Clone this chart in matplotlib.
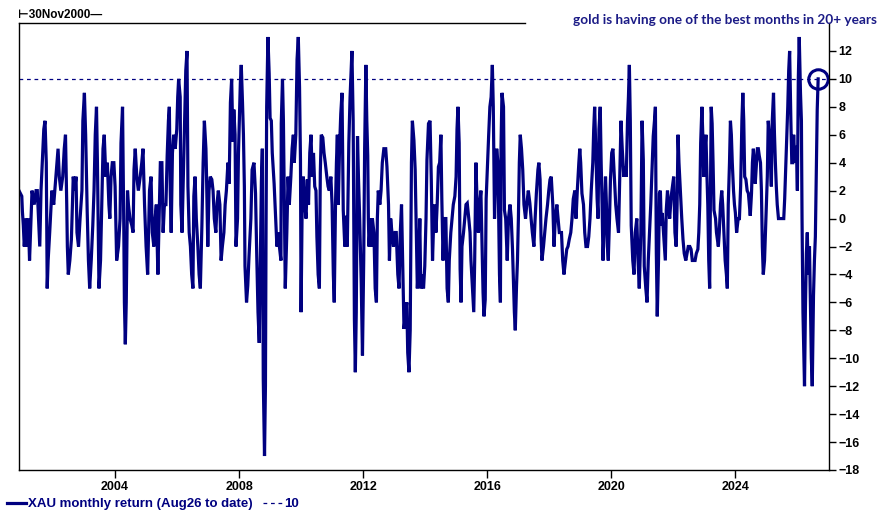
import matplotlib
matplotlib.use("Agg")
import matplotlib.pyplot as plt

# XAU monthly return (%), dates as decimal years
dates = [
    2000.90, 2000.99, 2001.01, 2001.04, 2001.07, 2001.13, 2001.17, 2001.20, 2001.24, 2001.28,
    2001.32, 2001.39, 2001.45, 2001.49, 2001.53, 2001.57, 2001.61, 2001.65, 2001.70, 2001.74,
    2001.78, 2001.81, 2001.84, 2001.89, 2001.96, 2002.02, 2002.09, 2002.16, 2002.20, 2002.25,
    2002.31, 2002.36, 2002.40, 2002.44, 2002.46, 2002.49, 2002.54, 2002.59, 2002.65, 2002.69,
    2002.74, 2002.77, 2002.82, 2002.87, 2002.93, 2002.96, 2003.01, 2003.05, 2003.10, 2003.14,
    2003.18, 2003.23, 2003.28, 2003.32, 2003.36, 2003.40, 2003.43, 2003.48, 2003.53, 2003.57,
    2003.61, 2003.65, 2003.70, 2003.75, 2003.80, 2003.83, 2003.87, 2003.91, 2003.96, 2004.00,
    2004.05, 2004.11, 2004.16, 2004.19, 2004.24, 2004.28, 2004.30, 2004.33, 2004.36, 2004.40,
    2004.43, 2004.48, 2004.54, 2004.58, 2004.61, 2004.65, 2004.70, 2004.75, 2004.81, 2004.86,
    2004.90, 2004.95, 2005.00, 2005.05, 2005.11, 2005.16, 2005.20, 2005.25, 2005.29, 2005.33,
    2005.38, 2005.42, 2005.46, 2005.51, 2005.55, 2005.59, 2005.64, 2005.68, 2005.72, 2005.75,
    2005.78, 2005.81, 2005.85, 2005.89, 2005.94, 2005.99, 2006.02, 2006.05, 2006.10, 2006.12,
    2006.16, 2006.20, 2006.25, 2006.28, 2006.32, 2006.35, 2006.39, 2006.43, 2006.47, 2006.51,
    2006.54, 2006.58, 2006.62, 2006.67, 2006.71, 2006.75, 2006.80, 2006.84, 2006.88, 2006.93,
    2006.95, 2006.99, 2007.03, 2007.07, 2007.12, 2007.16, 2007.20, 2007.25, 2007.29, 2007.33,
    2007.38, 2007.42, 2007.46, 2007.51, 2007.55, 2007.59, 2007.64, 2007.68, 2007.72, 2007.76,
    2007.80, 2007.83, 2007.87, 2007.90, 2007.95, 2007.98, 2008.01, 2008.04, 2008.07, 2008.11,
    2008.14, 2008.17, 2008.19, 2008.24, 2008.28, 2008.32, 2008.38, 2008.42, 2008.48, 2008.53,
    2008.57, 2008.61, 2008.65, 2008.69, 2008.72, 2008.75, 2008.78, 2008.82, 2008.85, 2008.87,
    2008.89, 2008.93, 2008.97, 2009.00, 2009.04, 2009.07, 2009.13, 2009.18, 2009.22, 2009.26,
    2009.30, 2009.35, 2009.36, 2009.40, 2009.43, 2009.46, 2009.49, 2009.54, 2009.58, 2009.62,
    2009.67, 2009.71, 2009.75, 2009.78, 2009.83, 2009.87, 2009.91, 2009.95, 2009.98, 2010.00,
    2010.03, 2010.07, 2010.12, 2010.16, 2010.20, 2010.24, 2010.28, 2010.32, 2010.36, 2010.40,
    2010.44, 2010.48, 2010.51, 2010.55, 2010.59, 2010.62, 2010.65, 2010.70, 2010.74, 2010.78,
    2010.83, 2010.87, 2010.91, 2010.96, 2011.00, 2011.04, 2011.07, 2011.11, 2011.14, 2011.17,
    2011.20, 2011.24, 2011.28, 2011.32, 2011.36, 2011.41, 2011.45, 2011.49, 2011.54, 2011.58,
    2011.64, 2011.68, 2011.72, 2011.75, 2011.78, 2011.82, 2011.85, 2011.89, 2011.94, 2011.98,
    2012.02, 2012.05, 2012.09, 2012.12, 2012.15, 2012.17, 2012.19, 2012.24, 2012.27, 2012.30,
    2012.35, 2012.39, 2012.43, 2012.46, 2012.49, 2012.54, 2012.58, 2012.62, 2012.67, 2012.73,
    2012.77, 2012.82, 2012.85, 2012.89, 2012.93, 2012.98, 2013.03, 2013.07, 2013.12, 2013.16,
    2013.20, 2013.24, 2013.28, 2013.32, 2013.36, 2013.41, 2013.44, 2013.48, 2013.52, 2013.54,
    2013.56, 2013.59, 2013.64, 2013.68, 2013.71, 2013.75, 2013.80, 2013.83, 2013.86, 2013.90,
    2013.95, 2013.99, 2014.03, 2014.06, 2014.11, 2014.16, 2014.20, 2014.24, 2014.28, 2014.31,
    2014.35, 2014.39, 2014.43, 2014.47, 2014.51, 2014.54, 2014.58, 2014.62, 2014.67, 2014.71,
    2014.75, 2014.78, 2014.83, 2014.87, 2014.91, 2014.96, 2015.00, 2015.03, 2015.06, 2015.10,
    2015.13, 2015.16, 2015.19, 2015.24, 2015.28, 2015.32, 2015.36, 2015.41, 2015.45, 2015.48,
    2015.53, 2015.57, 2015.60, 2015.64, 2015.68, 2015.72, 2015.76, 2015.80, 2015.84, 2015.87,
    2015.90, 2015.94, 2015.97, 2016.01, 2016.05, 2016.09, 2016.13, 2016.17, 2016.20, 2016.24,
    2016.28, 2016.31, 2016.35, 2016.40, 2016.43, 2016.45, 2016.48, 2016.53, 2016.56, 2016.60,
    2016.65, 2016.69, 2016.74, 2016.78, 2016.82, 2016.85, 2016.88, 2016.91, 2016.95, 2016.98,
    2017.01, 2017.04, 2017.07, 2017.11, 2017.15, 2017.19, 2017.24, 2017.28, 2017.33, 2017.38,
    2017.42, 2017.46, 2017.51, 2017.55, 2017.59, 2017.64, 2017.67, 2017.71, 2017.74, 2017.77,
    2017.82, 2017.86, 2017.90, 2017.95, 2017.99, 2018.03, 2018.07, 2018.12, 2018.16, 2018.20,
    2018.25, 2018.29, 2018.33, 2018.40, 2018.44, 2018.48, 2018.53, 2018.57, 2018.61, 2018.65,
    2018.70, 2018.74, 2018.78, 2018.83, 2018.87, 2018.91, 2018.96, 2018.99, 2019.02, 2019.06,
    2019.11, 2019.15, 2019.19, 2019.24, 2019.28, 2019.32, 2019.36, 2019.41, 2019.44, 2019.47,
    2019.52, 2019.55, 2019.58, 2019.61, 2019.65, 2019.68, 2019.71, 2019.74, 2019.77, 2019.82,
    2019.85, 2019.88, 2019.91, 2019.95, 2019.98, 2020.02, 2020.06, 2020.11, 2020.15, 2020.19,
    2020.24, 2020.28, 2020.32, 2020.36, 2020.41, 2020.45, 2020.49, 2020.53, 2020.56, 2020.59,
    2020.62, 2020.65, 2020.70, 2020.74, 2020.78, 2020.83, 2020.87, 2020.91, 2020.96, 2021.00,
    2021.04, 2021.07, 2021.12, 2021.16, 2021.20, 2021.24, 2021.28, 2021.32, 2021.36, 2021.40,
    2021.43, 2021.46, 2021.49, 2021.53, 2021.56, 2021.59, 2021.62, 2021.65, 2021.69, 2021.72,
    2021.75, 2021.78, 2021.82, 2021.85, 2021.89, 2021.94, 2021.98, 2022.02, 2022.06, 2022.10,
    2022.13, 2022.16, 2022.19, 2022.24, 2022.28, 2022.32, 2022.36, 2022.41, 2022.45, 2022.49,
    2022.54, 2022.58, 2022.62, 2022.67, 2022.71, 2022.75, 2022.80, 2022.83, 2022.86, 2022.89,
    2022.93, 2022.96, 2022.99, 2023.02, 2023.06, 2023.09, 2023.12, 2023.15, 2023.18, 2023.23,
    2023.26, 2023.29, 2023.32, 2023.37, 2023.40, 2023.43, 2023.46, 2023.49, 2023.53, 2023.57,
    2023.60, 2023.64, 2023.68, 2023.72, 2023.75, 2023.78, 2023.82, 2023.85, 2023.88, 2023.91,
    2023.95, 2023.98, 2024.01, 2024.05, 2024.10, 2024.14, 2024.18, 2024.22, 2024.25, 2024.28,
    2024.31, 2024.35, 2024.39, 2024.43, 2024.46, 2024.49, 2024.53, 2024.56, 2024.59, 2024.62,
    2024.65, 2024.69, 2024.72, 2024.75, 2024.78, 2024.82, 2024.85, 2024.88, 2024.91, 2024.95,
    2024.98, 2025.01, 2025.04, 2025.07, 2025.11, 2025.14, 2025.17, 2025.20, 2025.24, 2025.27,
    2025.30, 2025.33, 2025.36, 2025.40, 2025.45, 2025.51, 2025.57, 2025.60, 2025.64, 2025.67,
    2025.70, 2025.73, 2025.76, 2025.80, 2025.83, 2025.86, 2025.89, 2025.93, 2025.96, 2025.99,
    2026.01, 2026.04, 2026.07, 2026.11, 2026.14, 2026.16, 2026.19, 2026.24, 2026.27, 2026.30,
    2026.33, 2026.36, 2026.40, 2026.43, 2026.46, 2026.49, 2026.53, 2026.56, 2026.59, 2026.62,
    2026.65, 2026.68,
]

returns = [
    2, 1.6, 0.5, -0.5, -2, 0, -2, 0, -3, -0.5,
    2, 1, 2, 2, 0, -2, 2, 4, 6.4, 7,
    4, -5, -3, -1, 2, 1, 3, 5, 3, 2,
    3, 5, 6, 1, -2, -4, -3, -1.5, 3, 2,
    3, -1, -2, 0, 2, 7, 9, 6, 0.5, -3,
    -5, -3, -0.5, 2, 6, 8, 4, -5, -3, 1,
    5, 6, 3, 4, 1, 0, 3, 4, 4, 2.3,
    -3, -2, 0, 5.4, 8, -0.5, -6, -9, -6, 2,
    1, 0, -0.5, -1, 3.5, 5, 3, 2, 3, 4,
    5, 1, -2, -4, 2, 3, -1, -2, 0, 1,
    -4, 0, 4, 4, -1, 1, 1, 4.5, 7, 8,
    2, -1, 4.7, 6, 5, 6.4, 8.7, 10, 8.7, 1,
    -1, 2.8, 7.3, 10.6, 12, 2.3, -1, -2, -4, -5,
    1.6, 3, 0, -2, -4, -5, -0.5, 4, 7, 5,
    3, -2, 2, 3, 2.8, 2, 0, -1, 1.1, 2,
    1, -3, -2, -1, 1, 2, 4, 2.5, 8.3, 10,
    5.5, 7.8, 6, -2, 0, 4.7, 7.3, 9.7, 11, 8.3,
    6, 2.3, -3.4, -6, -4.8, -2.7, 0, 3.5, 4, 1.8,
    -2.7, -6.7, -8.9, -2, 2.7, 5, -11.5, -17, -12, -0.5,
    8, 13, 10.4, 7.2, 7, 4.7, 2.5, 0, -2, -1,
    -2, -3, 6.8, 10, 7, 0.9, -5, -1, 3, 1,
    3, 5, 6, 4, 6, 11.4, 13, 9.4, 4.2, -6.7,
    0, 3, 1, 0, 2.8, 1, 4.7, 6, 3, 4.7,
    2.3, 2, -1.3, -4, -5, 3.3, 6, 5.8, 4.7, 4,
    3, 2.3, 2, 3, 1, -4, -6, 1, 4, 6,
    1, 5, 7.5, 9, 0.6, -2, 0.2, -2, 5.4, 8.7,
    12, 7, -7.2, -11, -6.7, 5.9, 3, 0, -4.6, -9.8,
    -3, 5, 11, 7, 4.5, 0, -2, 0, -2, 0,
    -1, -5, -6, 0, 2, 1, 2, 4, 5, 5,
    3.7, 1, -3, 0, -1, -2, -1, -1, -4, -5,
    -1, 1, -3.4, -7.9, -7, -6, -9.6, -11, -8, -2,
    4, 7, 5.6, 3.5, 0, -5, -2.5, 0, -5, -4,
    -5, -3.4, 0, 4.2, 6.8, 7, 2.8, -3, 0, 1,
    -1, 1, 3.7, 4, 6, 1.4, -3, 0, 0, -5,
    -6, -3, -1, 0, 1, 1.6, 3, 6.4, 8, 5.4,
    -3.6, -6, -2, -1, 0, 1, 1.1, 0, -1, -3,
    -5, -6.7, -3, 4, 1, -1, 1, 2, -2, -5.3,
    -7, -5.8, 1.4, 3.7, 5.9, 8, 8.7, 11, 8, 0,
    3.3, 5, 4, -4, -6, 5.2, 9, 8, 0.6, 0,
    -3, 0, 1, 0, -2.2, -4.4, -6.7, -8, -4.8, -3,
    0, 4, 6, 5, 3.5, 1, 0, 1, 2, 1.1,
    0, -1, -2, 0, 1.8, 3.5, 4, 2.8, -1.3, -3,
    -2, -1, 0, 1, 2, 2.8, 3, 1, -2, 0,
    1, 0, -1, -1, -3, -4, -3, -2.2, -2, -1.5,
    -1, 0, 1.4, 2, 0, 2, 4, 5, 4, 1.8,
    1, -1, -2, -2, -1.3, 0, 2, 4, 6.4, 8,
    4, 1.4, 0, 6.4, 8, 4, 1, -3, -1, 3,
    1, -2, -3, 0, 2.8, 4.7, 5, 2.8, 1, 0,
    -1, 3, 7, 5, 3, 3.7, 3, 7, 8.7, 11,
    7, -0.5, -3, -4, -1, 0, -3, -5, -1, 7,
    4.2, -3.4, -5, -6, -3, -1, 1, 3.5, 5.9, 7,
    8, -2.5, -7, -3, 1.8, 2, -0.5, 0.4, -1, -2,
    -3, 0.6, 2, 1, 0, 1.6, 2.3, 3, -1, -2,
    1, 6, 4, 1.8, 0, -1.5, -2.5, -3, -2.5, -2,
    -2, -2.2, -3, -3, -3, -2.5, -2.2, -1, 1, 5.4,
    8, 5.9, 3, 4.7, 6, 3.3, 1, -3, -5, 8,
    6.8, 4, 0.6, 0, -1, -1.5, -2, -1, 1, 2,
    1, -1, -3, -4, -5, 1, 4, 7, 6, 4,
    2, 1, 0.4, -1, 0, 0, 2.3, 7, 9, 7,
    3, 2.8, 2, 1.8, 1, 0.2, 1.8, 4, 5, 4,
    2.5, 4, 5, 5, 4.5, 4, 2, -2, -4, -3,
    -1, 1, 3, 7, 5.9, 4, 2.3, 7, 9, 6.1,
    4, 2.3, 1, 0, 0, 0, 0, 1.4, 4, 6.1,
    8, 10.6, 12, 7, 4, 4, 6, 4, 5.2, 4,
    2, 10, 13, 9, 7, 0, -6.7, -12, -6.3, -2.5,
    -1, -4, -2, -6, -10, -12, -5.5, -3, -1.3, 3.3,
    7.8, 10,
]

threshold = 10
year_ticks = [2004, 2008, 2012, 2016, 2020, 2024]
value_ticks = list(range(-18, 13, 2))

title = "gold is having one of the best months in 20+ years"
series_label = "XAU monthly return (Aug26 to date)"
start_label = "\u22a230Nov2000\u2014"

navy = "#000080"
tick_font = ["Liberation Sans", "DejaVu Sans"]

fig = plt.figure(figsize=(8.82, 5.17), dpi=100)
ax = fig.add_axes([19 / 882, 47 / 517, 810 / 882, 447 / 517])

line, = ax.plot(dates, returns, color=navy, lw=2.3, solid_joinstyle="miter")
dash = ax.axhline(threshold, color=navy, lw=0.9, ls=(0, (3, 3)))
ax.plot(dates[-1], returns[-1], marker="o", ms=14, mfc="none", mec=navy, mew=2.2)

ax.set_xlim(2000.90, 2027.03)
ax.set_ylim(-18, 14)
ax.spines["top"].set_bounds(2000.90, 2017.23)  # title box hides the rest
ax.yaxis.tick_right()
ax.set_yticks(value_ticks)
ax.set_xticks(year_ticks)
ax.tick_params(axis="both", direction="out", width=1, colors="black")
ax.tick_params(axis="y", length=5, pad=2)
ax.tick_params(axis="x", length=6, pad=2)
for lab in ax.get_xticklabels() + ax.get_yticklabels():
    lab.set_fontfamily(tick_font)
    lab.set_fontweight("bold")
    lab.set_fontsize(9)
for sp in ax.spines.values():
    sp.set_linewidth(1)

fig.text(877 / 882, 1 - 20 / 517, title, ha="right", va="center", color="#1b1b86",
         fontsize=9.8, fontweight="bold", family=["Lato", "DejaVu Sans"])
fig.text(18 / 882, 1 - 15 / 517, start_label, ha="left", va="center", color="black",
         fontsize=8.5, fontweight="bold", family=tick_font)

fig.legend([line, dash], [series_label, str(threshold)], loc="lower left",
           bbox_to_anchor=(0.0, 0.0), ncol=2, frameon=False,
           prop={"family": tick_font, "weight": "bold", "size": 9.5},
           labelcolor=navy, handlelength=1.5, handletextpad=0.12,
           columnspacing=0.8, borderaxespad=0.3, borderpad=0.2)

fig.savefig("out.png", dpi=100)
